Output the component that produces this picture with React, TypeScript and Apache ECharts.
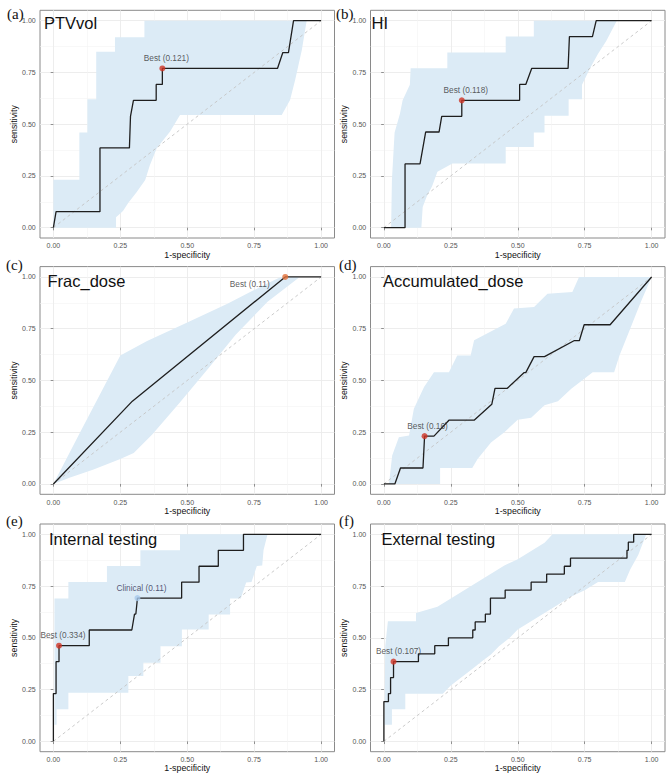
import React, { useEffect, useRef } from 'react';
import * as echarts from 'echarts';

// ---------- shared axis values ----------
const tickValues = [0, 0.25, 0.5, 0.75, 1];
const minorValues = [0.125, 0.375, 0.625, 0.875];
const diagonal = [[0, 0], [1, 1]];

// ---------- (a) PTVvol ----------
const rocA = [[0, 0], [0.01, 0.077], [0.174, 0.077], [0.174, 0.385], [0.284, 0.385], [0.288, 0.538], [0.299, 0.615], [0.384, 0.615], [0.384, 0.692], [0.407, 0.692], [0.407, 0.769], [0.837, 0.769], [0.857, 0.846], [0.878, 0.846], [0.897, 1], [1, 1]];
const upperA = [[0, 0.231], [0.097, 0.231], [0.097, 0.46], [0.127, 0.46], [0.127, 0.62], [0.16, 0.62], [0.16, 0.85], [0.23, 0.85], [0.23, 0.92], [0.34, 0.92], [0.34, 1], [0.946, 1]];
const lowerA = [[0, 0], [0.234, 0], [0.234, 0.05], [0.26, 0.08], [0.28, 0.12], [0.31, 0.17], [0.343, 0.23], [0.36, 0.3], [0.386, 0.383], [0.436, 0.464], [0.473, 0.544], [0.853, 0.544], [0.884, 0.617], [0.903, 0.713], [0.928, 0.858], [0.946, 1]];
const bestA = [0.407, 0.769];

// ---------- (b) HI ----------
const rocB = [[0, 0], [0.079, 0], [0.079, 0.308], [0.135, 0.308], [0.156, 0.462], [0.206, 0.462], [0.216, 0.538], [0.291, 0.538], [0.291, 0.615], [0.507, 0.615], [0.507, 0.692], [0.53, 0.692], [0.552, 0.769], [0.688, 0.769], [0.693, 0.923], [0.779, 0.923], [0.793, 1], [1, 1]];
const upperB = [[0.027, 0], [0.03, 0.23], [0.04, 0.46], [0.06, 0.55], [0.07, 0.615], [0.097, 0.69], [0.1, 0.77], [0.237, 0.77], [0.237, 0.846], [0.455, 0.846], [0.455, 0.923], [0.56, 0.923], [0.56, 1], [0.87, 1]];
const lowerB = [[0, 0], [0.14, 0], [0.145, 0.1], [0.16, 0.15], [0.18, 0.2], [0.2, 0.27], [0.256, 0.31], [0.455, 0.31], [0.455, 0.39], [0.56, 0.39], [0.56, 0.46], [0.6, 0.46], [0.6, 0.54], [0.69, 0.54], [0.69, 0.62], [0.74, 0.62], [0.74, 0.69], [0.77, 0.77], [0.8, 0.84], [0.83, 0.9], [0.87, 1]];
const bestB = [0.291, 0.615];

// ---------- (c) Frac_dose ----------
const rocC = [[0, 0], [0.295, 0.4], [0.866, 1], [1, 1]];
const upperC = [[0, 0], [0.1, 0.25], [0.25, 0.62], [0.35, 0.69], [0.5, 0.78], [0.65, 0.87], [0.8, 0.97], [0.85, 1]];
const lowerC = [[0, 0], [0.06, 0.03], [0.15, 0.07], [0.25, 0.12], [0.3, 0.15], [0.37, 0.24], [0.47, 0.39], [0.58, 0.56], [0.68, 0.72], [0.8, 0.88], [0.92, 1]];
const bestC = [0.866, 1];

// ---------- (d) Accumulated_dose ----------
const rocD = [[0, 0], [0.041, 0], [0.062, 0.077], [0.146, 0.077], [0.152, 0.231], [0.187, 0.231], [0.243, 0.308], [0.337, 0.308], [0.403, 0.385], [0.415, 0.462], [0.461, 0.462], [0.524, 0.538], [0.53, 0.538], [0.561, 0.615], [0.6, 0.615], [0.71, 0.692], [0.73, 0.692], [0.748, 0.769], [0.845, 0.769], [1, 1]];
const upperD = [[0.019, 0], [0.031, 0.137], [0.056, 0.226], [0.094, 0.234], [0.112, 0.363], [0.15, 0.468], [0.187, 0.54], [0.243, 0.54], [0.274, 0.621], [0.324, 0.621], [0.337, 0.694], [0.455, 0.774], [0.486, 0.847], [0.561, 0.855], [0.611, 0.919], [0.704, 0.927], [0.729, 1], [1, 1]];
const lowerD = [[0, 0], [0.21, 0], [0.21, 0.077], [0.33, 0.077], [0.35, 0.12], [0.4, 0.2], [0.45, 0.25], [0.5, 0.31], [0.55, 0.32], [0.6, 0.38], [0.65, 0.4], [0.7, 0.46], [0.78, 0.54], [0.86, 0.54], [0.88, 0.62], [0.92, 0.75], [0.96, 0.88], [1, 1]];
const bestD = [0.152, 0.231];

// ---------- (e) Internal testing ----------
const rocE = [[0, 0], [0, 0.231], [0.01, 0.231], [0.01, 0.385], [0.021, 0.385], [0.021, 0.462], [0.134, 0.462], [0.134, 0.538], [0.293, 0.538], [0.303, 0.615], [0.308, 0.615], [0.314, 0.692], [0.479, 0.692], [0.479, 0.769], [0.544, 0.769], [0.544, 0.846], [0.616, 0.846], [0.616, 0.923], [0.71, 0.923], [0.71, 1], [1, 1]];
const upperE = [[0.004, 0.08], [0.004, 0.69], [0.056, 0.69], [0.056, 0.77], [0.2, 0.77], [0.2, 0.847], [0.325, 0.847], [0.325, 0.923], [0.473, 0.923], [0.473, 1], [0.8, 1]];
const lowerE = [[0.004, 0.08], [0.012, 0.08], [0.012, 0.155], [0.056, 0.155], [0.056, 0.235], [0.28, 0.235], [0.28, 0.316], [0.336, 0.316], [0.336, 0.38], [0.4, 0.38], [0.4, 0.46], [0.48, 0.46], [0.48, 0.54], [0.58, 0.54], [0.58, 0.613], [0.66, 0.613], [0.66, 0.69], [0.7, 0.69], [0.72, 0.767], [0.74, 0.77], [0.76, 0.847], [0.78, 0.85], [0.785, 0.924], [0.8, 1]];
const bestE = [0.021, 0.462];
const clinicalE = [0.314, 0.692];

// ---------- (f) External testing ----------
const rocF = [[0, 0], [0, 0.192], [0.017, 0.192], [0.017, 0.231], [0.025, 0.231], [0.025, 0.308], [0.036, 0.308], [0.036, 0.385], [0.129, 0.385], [0.129, 0.423], [0.19, 0.423], [0.19, 0.462], [0.241, 0.462], [0.241, 0.5], [0.332, 0.5], [0.332, 0.538], [0.341, 0.538], [0.341, 0.577], [0.379, 0.577], [0.379, 0.615], [0.398, 0.615], [0.398, 0.692], [0.453, 0.692], [0.453, 0.731], [0.55, 0.731], [0.55, 0.769], [0.608, 0.769], [0.608, 0.808], [0.674, 0.808], [0.674, 0.846], [0.697, 0.846], [0.697, 0.885], [0.908, 0.885], [0.908, 0.923], [0.913, 0.923], [0.913, 0.962], [0.933, 0.962], [0.933, 1], [1, 1]];
const upperF = [[0.002, 0.08], [0.005, 0.46], [0.015, 0.58], [0.12, 0.58], [0.12, 0.62], [0.2, 0.65], [0.25, 0.69], [0.3, 0.73], [0.35, 0.77], [0.4, 0.81], [0.45, 0.85], [0.5, 0.88], [0.55, 0.92], [0.6, 0.96], [0.63, 1], [0.98, 1]];
const lowerF = [[0.002, 0.08], [0.03, 0.08], [0.03, 0.155], [0.08, 0.155], [0.08, 0.23], [0.22, 0.23], [0.25, 0.27], [0.29, 0.31], [0.33, 0.35], [0.37, 0.39], [0.4, 0.42], [0.43, 0.46], [0.47, 0.5], [0.5, 0.54], [0.55, 0.58], [0.6, 0.62], [0.65, 0.66], [0.7, 0.7], [0.75, 0.73], [0.8, 0.77], [0.9, 0.77], [0.92, 0.83], [0.95, 0.9], [0.98, 1]];
const bestF = [0.036, 0.385];

// ---------- labels ----------
const panelTitles = ['PTVvol', 'HI', 'Frac_dose', 'Accumulated_dose', 'Internal testing', 'External testing'];
const panelLetters = ['(a)', '(b)', '(c)', '(d)', '(e)', '(f)'];

// ---------- styling / layout ----------
const BAND = '#dcebf6';
const RED = '#cf3426';
const COL_LEFT = [40, 370.5];
const ROW_TOP = [10.3, 266.6, 524];
const GW = 294.5;
const GH = 227.7;
const TITLE_POS = [[44, 22.5], [371.5, 22.5], [47.5, 281.3], [383, 281.3], [49, 538.7], [381.5, 538.7]];
const LETTER_POS = [[7, 13.5], [336, 13.5], [6, 264.8], [339, 264.8], [6, 521.2], [339, 521.2]];
const SANS = 'Liberation Sans, Arial, sans-serif';

const panels = [
  { roc: rocA, upper: upperA, lower: lowerA, marks: [{ v: bestA, text: 'Best (0.121)', color: RED, pos: 'top', offset: [4, 0] }] },
  { roc: rocB, upper: upperB, lower: lowerB, marks: [{ v: bestB, text: 'Best (0.118)', color: RED, pos: 'top', offset: [4, 0] }] },
  { roc: rocC, upper: upperC, lower: lowerC, marks: [{ v: bestC, text: 'Best (0.11)', color: '#e2703a', pos: 'left', offset: [-9, 7] }] },
  { roc: rocD, upper: upperD, lower: lowerD, marks: [{ v: bestD, text: 'Best (0.16)', color: RED, pos: 'top', offset: [3, 0] }] },
  {
    roc: rocE, upper: upperE, lower: lowerE, marks: [
      { v: bestE, text: 'Best (0.334)', color: RED, pos: 'top', offset: [4, 0] },
      { v: clinicalE, text: 'Clinical (0.11)', color: '#a7c9ec', pos: 'top', offset: [4, 0], labelColor: '#2e2e52' },
    ]
  },
  { roc: rocF, upper: upperF, lower: lowerF, marks: [{ v: bestF, text: 'Best (0.107)', color: RED, pos: 'top', offset: [5, 0] }] },
];

function buildOption() {
  const grid: any[] = [];
  const xAxis: any[] = [];
  const yAxis: any[] = [];
  const series: any[] = [];
  const graphic: any[] = [];

  panels.forEach((p, i) => {
    const col = i % 2;
    const row = Math.floor(i / 2);
    grid.push({
      left: COL_LEFT[col], top: ROW_TOP[row], width: GW, height: GH,
      show: true, borderColor: '#8a8a8a', borderWidth: 1, backgroundColor: 'rgba(0,0,0,0)',
    });
    const major = (isX: boolean) => ({
      gridIndex: i, type: 'value', min: -0.05, max: 1.05,
      position: isX ? 'bottom' : 'left',
      name: isX ? '1-specificity' : 'sensitivity',
      nameLocation: 'middle', nameGap: isX ? 11 : 18.3,
      nameTextStyle: { fontSize: 8.8, color: '#111', fontFamily: SANS },
      axisLine: { show: false },
      axisTick: { show: true, length: 2.7, lineStyle: { color: '#777', width: 0.8 }, customValues: tickValues },
      axisLabel: { show: true, customValues: tickValues, formatter: (v: number) => v.toFixed(2), fontSize: 7, color: '#555', margin: 4.3, fontFamily: SANS },
      splitLine: { show: true, lineStyle: { color: '#ebebeb', width: 0.9 } },
    });
    const minor = (isX: boolean) => ({
      gridIndex: i, type: 'value', min: -0.05, max: 1.05,
      position: isX ? 'top' : 'right',
      axisLine: { show: false },
      axisTick: { show: false, customValues: minorValues },
      axisLabel: { show: false },
      splitLine: { show: true, lineStyle: { color: '#f3f3f3', width: 0.6 } },
    });
    xAxis.push(major(true), minor(true));
    yAxis.push(major(false), minor(false));
    const xi = 2 * i;
    const yi = 2 * i;

    const poly = [...p.upper, ...[...p.lower].reverse()];
    series.push({
      type: 'custom', xAxisIndex: xi, yAxisIndex: yi, silent: true, z: 2,
      data: poly,
      encode: { x: 0, y: 1 },
      renderItem: (params: any, api: any) => {
        if (params.dataIndex !== 0) return null;
        const pts = poly.map((pt) => api.coord(pt));
        return { type: 'polygon', shape: { points: pts }, style: { fill: BAND } };
      },
    });
    series.push({
      type: 'line', xAxisIndex: xi, yAxisIndex: yi, data: diagonal, symbol: 'none', silent: true, z: 3,
      lineStyle: { color: '#c4c4c4', width: 0.9, type: [3, 3] },
    });
    series.push({
      type: 'line', xAxisIndex: xi, yAxisIndex: yi, data: p.roc, symbol: 'none', silent: true, z: 4,
      lineStyle: { color: '#1e1e1e', width: 1.3 },
    });
    p.marks.forEach((m: any) => {
      series.push({
        type: 'scatter', xAxisIndex: xi, yAxisIndex: yi, data: [m.v], symbolSize: 6, silent: true, z: 5,
        itemStyle: { color: m.color },
        label: {
          show: true, formatter: m.text, position: m.pos, distance: 3.5, offset: m.offset,
          fontSize: 8.3, color: m.labelColor || '#333', fontFamily: SANS,
        },
      });
    });

    graphic.push({
      type: 'text', x: TITLE_POS[i][0], y: TITLE_POS[i][1], silent: true, z: 10,
      style: { text: panelTitles[i], font: `16.5px ${SANS}`, fill: '#111', align: 'left', verticalAlign: 'middle' },
    });
    graphic.push({
      type: 'text', x: LETTER_POS[i][0], y: LETTER_POS[i][1], silent: true, z: 10,
      style: { text: panelLetters[i], font: '15px "Liberation Serif", "Times New Roman", serif', fill: '#111', align: 'left', verticalAlign: 'middle' },
    });
  });

  return { animation: false, backgroundColor: '#ffffff', grid, xAxis, yAxis, series, graphic };
}

export default function App() {
  const ref = useRef<HTMLDivElement>(null);
  useEffect(() => {
    if (!ref.current) return;
    const chart = echarts.init(ref.current, undefined, { renderer: 'svg' });
    chart.setOption(buildOption() as any);
    return () => chart.dispose();
  }, []);
  return <div ref={ref} style={{ position: 'absolute', left: 0, top: 0, width: 669, height: 777 }} />;
}
